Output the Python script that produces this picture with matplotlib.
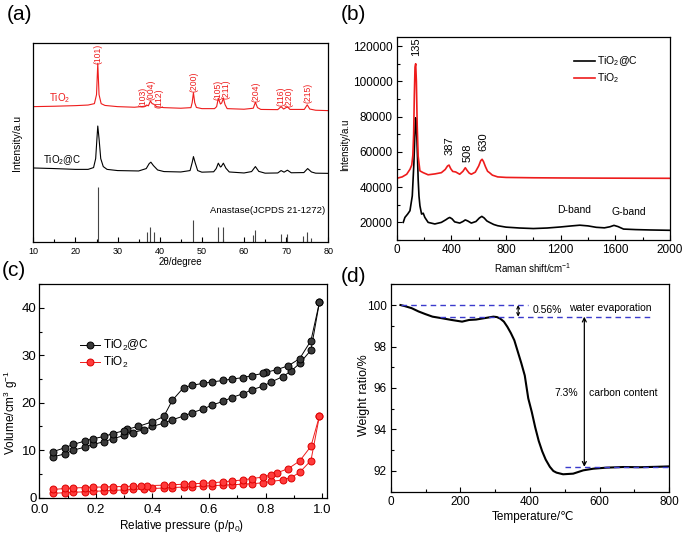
import matplotlib
matplotlib.use('Agg')
import matplotlib.pyplot as plt
from matplotlib.ticker import MultipleLocator

plt.rcParams['font.family'] = ['Liberation Sans', 'DejaVu Sans']
plt.rcParams['mathtext.fontset'] = 'custom'
plt.rcParams['mathtext.rm'] = 'Liberation Sans'
plt.rcParams['mathtext.it'] = 'Liberation Sans'
plt.rcParams['mathtext.bf'] = 'Liberation Sans:bold'

# (a) XRD, 2theta / intensity (a.u.)
xrd_tio2_x = [10, 15, 20, 23, 24.5, 25.0, 25.3, 25.6, 26.1, 27, 30, 34, 36.5, 36.9, 37.3, 37.8, 38.2, 38.6,
              39.2, 41, 45, 47.4, 47.7, 48.0, 48.3, 48.7, 50, 53, 53.5, 53.9, 54.4, 54.7, 55.1, 55.5, 56, 60,
              62.2, 62.7, 63.2, 64, 68, 68.8, 69.4, 70.3, 70.9, 74.3, 75.0, 75.6, 77, 80]
xrd_tio2_y = [68.0, 68.2, 68.5, 68.8, 69.5, 74, 89.7, 74, 69.5, 68.6, 68.0, 67.7, 68.2, 68.8, 68.4, 70.8, 69.5, 69.2,
              68.0, 67.5, 67.2, 67.5, 70, 75.0, 70, 67.6, 67, 67, 68, 72.2, 69.3, 69.8, 72.2, 69, 67, 66.7,
              67.2, 70.2, 67.5, 66.6, 66.5, 68.0, 66.8, 67.9, 66.6, 66.6, 68.9, 66.8, 66.2, 66.0]
xrd_c_x = [10, 15, 20, 23, 24.3, 24.8, 25.1, 25.3, 25.6, 26.0, 26.6, 27.5, 30, 35, 36.8, 37.5, 37.9, 38.5, 39.5,
           41, 45, 47.2, 47.7, 48.0, 48.4, 49.0, 50, 52.8, 53.4, 53.9, 54.4, 54.6, 55.1, 55.7, 56.5, 60, 61.8,
           62.7, 63.5, 65, 68, 68.8, 69.5, 70.3, 71.2, 74.2, 75.1, 76.0, 77, 80]
xrd_c_y = [37.3, 37.0, 36.6, 36.6, 37.5, 42, 52, 58.3, 52, 42, 38, 36.6, 36.0, 35.8, 37.0, 39.5, 40.2, 38.5, 36.3,
           35.5, 35.3, 36, 40, 43, 40, 36, 35.2, 35.4, 37, 39.7, 37.8, 38.0, 39.7, 37.2, 35.3, 34.8, 35.5,
           38.0, 35.6, 34.7, 34.8, 36, 35.2, 36.2, 34.9, 35.0, 37.0, 35.3, 34.7, 34.6]
pdf_pos = [25.3, 36.9, 37.8, 38.6, 48.0, 53.9, 55.1, 62.1, 62.7, 68.8, 70.3, 74.0, 75.0, 76.0]
pdf_int = [27.8, 5.3, 7.8, 5.3, 11.5, 7.8, 7.8, 3.7, 6.2, 4.2, 4.5, 3.2, 5.2, 2.5]
hkl_labels = ['(101)', '(103)', '(004)', '(112)', '(200)', '(105)', '(211)', '(204)', '(116)', '(220)', '(215)']
hkl_x = [25.4, 36.0, 37.9, 39.8, 48.2, 53.8, 55.7, 62.8, 68.7, 70.7, 75.1]
hkl_y = [94.3, 73.0, 76.3, 72.2, 80.5, 76.3, 76.7, 75.7, 73.2, 73.0, 75.1]

# (b) Raman
raman_tio2_x = [0, 40, 73, 97, 110, 118, 124, 129, 134, 139, 144, 150, 157, 170, 194, 230, 280, 327, 355, 372,
                383, 395, 410, 432, 461, 485, 502, 515, 530, 546, 575, 600, 615, 625, 635, 650, 665, 679, 700,
                739, 800, 1000, 1200, 1500, 2000]
raman_tio2_y = [45000, 45800, 47300, 50100, 52500, 58000, 70000, 92000, 108000, 110000, 100000, 75000, 57600,
                49200, 48200, 47000, 47500, 48200, 50000, 52000, 52500, 50500, 48900, 48600, 47300, 49000, 51000,
                49500, 48000, 47300, 48500, 52000, 55000, 55800, 54500, 51500, 49000, 48200, 46800, 45800, 45500,
                45300, 45200, 45100, 45000]
raman_c_x = [48, 60, 80, 97, 114, 126, 132, 138, 143, 148, 153, 157, 163, 170, 182, 194, 206, 230, 279, 327, 360,
             375, 388, 405, 424, 461, 485, 502, 520, 546, 580, 605, 623, 640, 660, 679, 710, 739, 800, 900, 1000,
             1100, 1200, 1280, 1340, 1400, 1460, 1520, 1560, 1590, 1620, 1660, 1750, 1850, 2000]
raman_c_y = [20000, 22800, 24700, 26600, 35000, 53900, 68000, 79300, 75000, 67000, 55000, 44500, 35000, 29400,
             24700, 25200, 22800, 20000, 19100, 20000, 21500, 22300, 22800, 22000, 20300, 19600, 20500, 21400,
             20800, 19600, 20500, 22500, 23400, 22500, 20800, 20000, 18800, 18100, 17300, 16800, 16500, 16800,
             17400, 18000, 18400, 18000, 17200, 16900, 17500, 18300, 17600, 16200, 15900, 15700, 15500]

# (c) N2 isotherms
p_ads = [0.05, 0.09, 0.12, 0.16, 0.19, 0.23, 0.26, 0.30, 0.33, 0.37, 0.40, 0.44, 0.47, 0.51, 0.54, 0.58, 0.61,
         0.65, 0.68, 0.72, 0.75, 0.79, 0.82, 0.86, 0.89, 0.92, 0.96, 0.99]
c_ads = [8.6, 9.2, 10.0, 10.6, 11.2, 11.8, 12.4, 13.1, 13.7, 14.3, 15.0, 15.7, 16.4, 17.2, 17.9, 18.7, 19.5,
         20.3, 21.1, 21.9, 22.7, 23.5, 24.4, 25.5, 26.7, 28.3, 31.1, 41.2]
p_des_c = [0.99, 0.96, 0.92, 0.88, 0.84, 0.80, 0.79, 0.75, 0.72, 0.68, 0.65, 0.61, 0.58, 0.54, 0.51, 0.47, 0.44,
           0.40, 0.35, 0.31, 0.30, 0.26, 0.23, 0.19, 0.16, 0.12, 0.09, 0.05]
c_des = [41.2, 33.1, 29.3, 27.8, 27.0, 26.4, 26.2, 25.7, 25.3, 25.0, 24.7, 24.4, 24.1, 23.7, 23.2, 20.5, 17.1,
         16.0, 15.0, 14.4, 14.1, 13.5, 12.9, 12.4, 11.9, 11.2, 10.5, 9.7]
t_ads = [0.9, 1.0, 1.1, 1.2, 1.3, 1.4, 1.5, 1.6, 1.7, 1.8, 1.9, 2.0, 2.1, 2.2, 2.3, 2.4, 2.5,
         2.6, 2.7, 2.8, 2.9, 3.1, 3.4, 3.7, 4.2, 5.3, 7.8, 17.2]
p_des_t = [0.99, 0.96, 0.92, 0.88, 0.84, 0.82, 0.79, 0.75, 0.72, 0.68, 0.65, 0.61, 0.58, 0.54, 0.51, 0.47, 0.44,
           0.38, 0.36, 0.33, 0.30, 0.26, 0.23, 0.19, 0.16, 0.12, 0.09, 0.05]
t_des = [17.2, 10.8, 7.7, 6.1, 5.2, 4.8, 4.3, 4.0, 3.7, 3.5, 3.3, 3.1, 3.0, 2.9, 2.8, 2.7, 2.6,
         2.5, 2.4, 2.4, 2.3, 2.3, 2.2, 2.2, 2.1, 2.0, 1.9, 1.7]

# (d) TGA
tga_t = [28, 40, 60, 80, 100, 120, 145, 175, 205, 225, 245, 270, 295, 305, 315, 325, 335, 345, 355, 365, 375,
         385, 395, 405, 415, 425, 435, 445, 457, 467, 476, 495, 524, 553, 582, 620, 668, 716, 763, 800]
tga_w = [100.0, 99.95, 99.85, 99.69, 99.56, 99.44, 99.37, 99.28, 99.2, 99.28, 99.3, 99.37, 99.44, 99.42, 99.34,
         99.2, 98.95, 98.65, 98.3, 97.75, 97.2, 96.6, 95.5, 94.85, 94.1, 93.45, 92.95, 92.55, 92.2, 92.0, 91.92,
         91.84, 91.87, 92.03, 92.11, 92.16, 92.19, 92.18, 92.2, 92.22]

W, H = 685, 537
fig = plt.figure(figsize=(W / 100, H / 100), dpi=100)


def box(l, t, r, b):
    return fig.add_axes([l / W, 1 - b / H, (r - l) / W, (b - t) / H])


def style(ax, lab=8.5):
    ax.tick_params(which='both', direction='in', top=False, right=False, labelsize=lab, width=0.8, pad=3)
    ax.tick_params(which='major', length=3.5)
    ax.tick_params(which='minor', length=2)
    for s in ax.spines.values():
        s.set_linewidth(0.9)


def labels(ax, xl, yl, xpos, ypos, xs, ys):
    # axis titles placed by their centre
    ax.set_xlabel(xl, fontsize=xs, va='center')
    ax.xaxis.set_label_coords(*xpos)
    ax.set_ylabel(yl, fontsize=ys, va='center')
    ax.yaxis.set_label_coords(*ypos)


# ---- (a)
ax = box(33.3, 42.7, 328.3, 242.5)
ax.plot(xrd_tio2_x, xrd_tio2_y, color='#ee1c1c', lw=0.8)
ax.plot(xrd_c_x, xrd_c_y, color='black', lw=0.8)
ax.vlines(pdf_pos, 0, pdf_int, color='#444444', lw=0.8)
for lab, x, y in zip(hkl_labels, hkl_x, hkl_y):
    ax.text(x, y, lab, rotation=90, ha='center', va='center', color='#ee1c1c', fontsize=6.2)
ax.text(16.3, 72.2, 'TiO$_2$', color='#ee1c1c', fontsize=7, ha='center', va='center')
ax.text(16.9, 41.3, 'TiO$_2$@C', color='black', fontsize=7, ha='center', va='center')
ax.text(65.5, 16, 'Anastase(JCPDS 21-1272)', fontsize=6.8, ha='center', va='center')
ax.set_xlim(10, 80)
ax.set_ylim(0, 100)
ax.set_yticks([])
ax.xaxis.set_major_locator(MultipleLocator(10))
ax.xaxis.set_minor_locator(MultipleLocator(5))
style(ax, 6.5)
labels(ax, '2θ/degree', 'Intensity/a.u', (0.497, -0.098), (-0.055, 0.5), 7, 7.5)
fig.text(7 / W, 1 - 15 / H, '(a)', fontsize=15, va='center')

# ---- (b)
ax = box(396.7, 37.3, 670, 240)
ax.plot(raman_c_x, raman_c_y, color='black', lw=1.2, label='TiO$_2$@C')
ax.plot(raman_tio2_x, raman_tio2_y, color='#ee1c1c', lw=1.2, label='TiO$_2$')
ax.set_xlim(0, 2000)
ax.set_ylim(10000, 125000)
ax.xaxis.set_major_locator(MultipleLocator(400))
ax.xaxis.set_minor_locator(MultipleLocator(200))
ax.yaxis.set_major_locator(MultipleLocator(20000))
ax.yaxis.set_minor_locator(MultipleLocator(10000))
style(ax, 8.5)
ax.text(140, 119500, '135', rotation=90, ha='center', va='center', fontsize=8)
ax.text(388, 63700, '387', rotation=90, ha='center', va='center', fontsize=8)
ax.text(516, 59700, '508', rotation=90, ha='center', va='center', fontsize=8)
ax.text(635, 65900, '630', rotation=90, ha='center', va='center', fontsize=8)
ax.text(1297, 26900, 'D-band', ha='center', va='center', fontsize=7.5)
ax.text(1702, 26000, 'G-band', ha='center', va='center', fontsize=7.5)
ax.legend(loc='upper left', bbox_to_anchor=(0.63, 0.94), frameon=False, fontsize=7.5,
          handlelength=2.0, handletextpad=0.2, borderpad=0, labelspacing=0.3)
labels(ax, 'Raman shift/cm$^{-1}$', 'Intensity/a.u', (0.499, -0.138), (-0.19, 0.47), 7, 7)
fig.text(341 / W, 1 - 14 / H, '(b)', fontsize=15, va='center')

# ---- (c)
ax = box(39.3, 284.3, 326.5, 497.5)
mk = dict(marker='o', ms=5, mew=0.7)
ax.plot(p_ads, c_ads, color='black', lw=0.7, mfc='#3a3a3a', mec='black', label='TiO$_2$@C', **mk)
ax.plot(p_des_c, c_des, color='black', lw=0.7, mfc='#3a3a3a', mec='black', **mk)
ax.plot(p_ads, t_ads, color='#ee1c1c', lw=0.7, mfc='#ff3b3b', mec='#dd0000', label='TiO$_2$', **mk)
ax.plot(p_des_t, t_des, color='#ee1c1c', lw=0.7, mfc='#ff3b3b', mec='#dd0000', **mk)
ax.set_xlim(0, 1.015)
ax.set_ylim(0, 45)
ax.xaxis.set_major_locator(MultipleLocator(0.2))
ax.xaxis.set_minor_locator(MultipleLocator(0.1))
ax.yaxis.set_major_locator(MultipleLocator(10))
ax.yaxis.set_minor_locator(MultipleLocator(5))
style(ax, 9.5)
ax.tick_params(axis='y', pad=2)
ax.tick_params(axis='x', pad=5)
ax.legend(loc='upper left', bbox_to_anchor=(0.12, 0.775), frameon=False, fontsize=8.5,
          handlelength=1.7, handletextpad=0.3, borderpad=0, labelspacing=0.15)
labels(ax, 'Relative pressure (p/p$_0$)', 'Volume/cm$^3$ g$^{-1}$', (0.497, -0.136), (-0.0985, 0.4), 8.5, 8.5)
fig.text(2 / W, 1 - 271 / H, '(c)', fontsize=15, va='center')

# ---- (d)
ax = box(390.7, 284.3, 669.3, 491.7)
ax.plot(tga_t, tga_w, color='black', lw=1.5)
dash = dict(color='#3b3bcc', lw=1.0, ls=(0, (4, 3)))
ax.plot([30, 395], [100, 100], **dash)
ax.plot([141, 745], [99.44, 99.44], **dash)
ax.plot([500, 800], [92.2, 92.2], **dash)
ax.annotate('', xy=(366, 99.44), xytext=(366, 100),
            arrowprops=dict(arrowstyle='<->', lw=0.8, color='black', shrinkA=0, shrinkB=0, mutation_scale=5))
ax.annotate('', xy=(556, 92.2), xytext=(556, 99.44),
            arrowprops=dict(arrowstyle='<->', lw=0.9, color='black', shrinkA=0, shrinkB=0, mutation_scale=7))
ax.text(450, 99.76, '0.56%', ha='center', va='center', fontsize=7.5)
ax.text(631, 99.87, 'water evaporation', ha='center', va='center', fontsize=7.5)
ax.text(504, 95.77, '7.3%', ha='center', va='center', fontsize=7.5)
ax.text(668, 95.77, 'carbon content', ha='center', va='center', fontsize=7.5)
ax.set_xlim(0, 800)
ax.set_ylim(91, 101)
ax.xaxis.set_major_locator(MultipleLocator(200))
ax.xaxis.set_minor_locator(MultipleLocator(100))
ax.yaxis.set_major_locator(MultipleLocator(2))
ax.yaxis.set_minor_locator(MultipleLocator(1))
style(ax, 8.5)
labels(ax, 'Temperature/℃', 'Weight ratio/%', (0.512, -0.12), (-0.096, 0.466), 8.5, 9)
fig.text(341 / W, 1 - 276 / H, '(d)', fontsize=15, va='center')

fig.savefig('out.png', dpi=100)
